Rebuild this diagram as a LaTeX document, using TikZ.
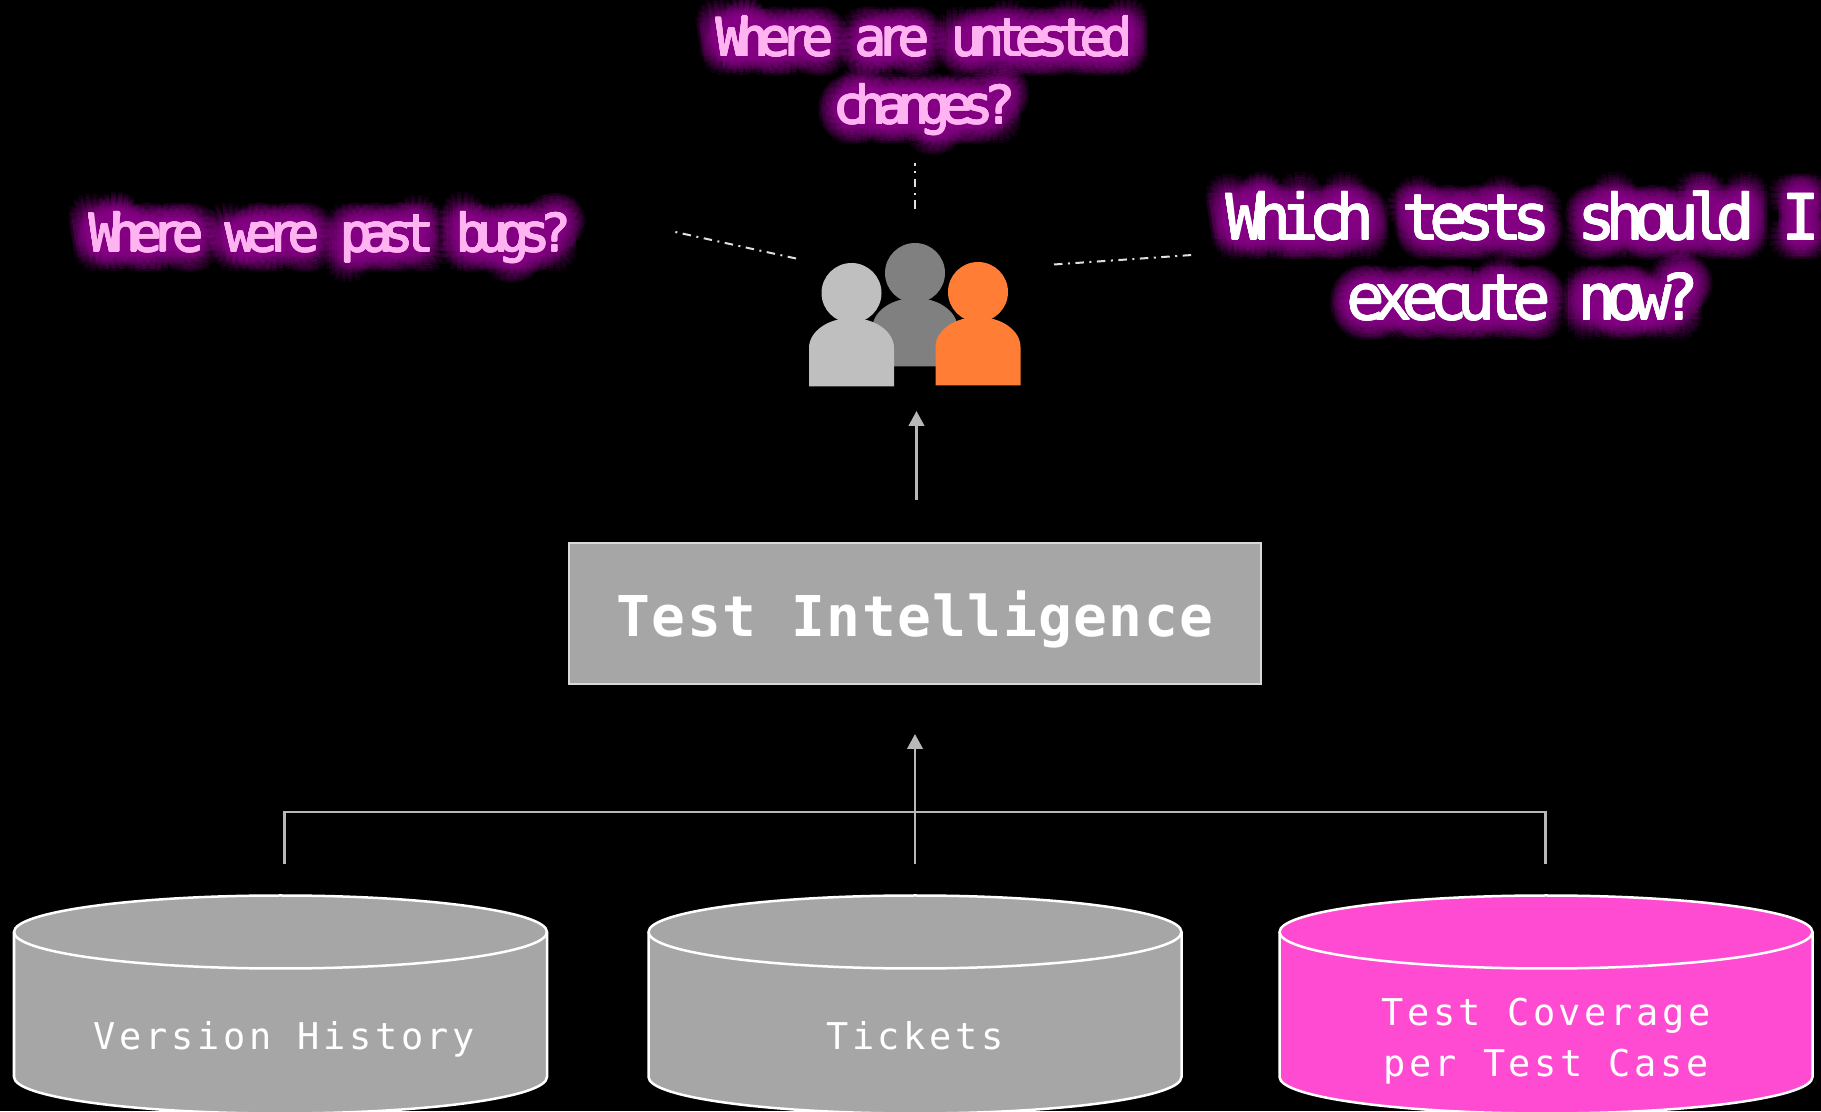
\documentclass[tikz,border=0pt]{standalone}
\usepackage{fontspec}
\usetikzlibrary{arrows.meta}

\newfontfamily\glowfont[LetterSpace=-19.5]{DejaVu Sans Mono}
\newfontfamily\bugsfont[LetterSpace=-20.5]{DejaVu Sans Mono}
\newfontfamily\whichfont[LetterSpace=-16.5]{DejaVu Sans Mono}
\newfontfamily\titlefont[LetterSpace=2.5]{DejaVu Sans Mono}
\newfontfamily\storefont[LetterSpace=10]{DejaVu Sans Mono}

\definecolor{boxgray}{HTML}{A6A6A6}
\definecolor{linegray}{HTML}{B8B8B8}
\definecolor{storepink}{HTML}{FF4BD2}
\definecolor{neonpink}{HTML}{FFB3F0}
\definecolor{neonglow}{HTML}{8A008A}
\definecolor{personorange}{HTML}{FF7D35}

\tikzset{
	flowline/.style={draw=linegray, line width=.05cm},
	flowarrow/.style={flowline, -{Triangle[width=.31cm, length=.3cm]}},
	talkline/.style={draw=white!88!black, line width=.04cm, dash pattern=on .17cm off .11cm on .04cm off .11cm},
	storeshape/.style={draw=white, line width=.05cm},
	storelabel/.style={text=white, align=center, font=\storefont\fontsize{21}{29}\selectfont},
	glowcopy/.style={text=neonglow, text opacity=.13, align=center},
}

% text with a soft halo: copies on rings round the position, then the sharp text
\newcommand{\neonlabel}[5]{
	\foreach \r in {.40, .34, .28, .22, .16, .10} {
		\foreach \a in {0, 20, ..., 340} {
			\node[glowcopy, font=#3, shift={(\a:\r)}] at (#2) {#5};
		};
	};
	\foreach \a in {0, 60, ..., 300} {
		\node[align=center, text=#4, font=#3, shift={(\a:.012)}] at (#2) {#5};
	};
	\node[align=center, text=#4, font=#3] (#1) at (#2) {#5};
}

\begin{document}
\begin{tikzpicture}
	\useasboundingbox (0, 0) rectangle (36.42, 22.22);
	\fill[black] (0, 0) rectangle (36.42, 22.22);

	% questions
	\neonlabel{untested}{18.49, 20.71}{\glowfont\fontsize{30}{38.5}\selectfont}{neonpink}{Where are untested\\changes?}
	\neonlabel{pastbugs}{6.6, 17.47}{\bugsfont\fontsize{30}{38}\selectfont}{neonpink}{Where were past bugs?}
	\neonlabel{whichtests}{30.46, 17.1}{\whichfont\fontsize{36}{45.5}\selectfont}{white}{Which tests should I\\execute now?}

	\coordinate (untestedEnd) at (18.3, 18.96);
	\coordinate (untestedStart) at (18.3, 18.04);
	\coordinate (pastbugsEnd) at (13.46, 17.59);
	\coordinate (pastbugsStart) at (15.92, 17.05);
	\coordinate (whichEnd) at (23.84, 17.12);
	\coordinate (whichStart) at (21.08, 16.93);
	\draw[talkline] (untestedStart) -- (untestedEnd);
	\draw[talkline] (pastbugsStart) -- (pastbugsEnd);
	\draw[talkline] (whichStart) -- (whichEnd);

	% people
	\foreach \x/\y/\c in {18.3/16.76/black!50, 17.03/16.36/black!25, 19.56/16.38/personorange} {
		\fill[\c] (\x, \y) circle (.6);
		\fill[\c] (\x-.85, \y-1.87) -- ++(0, .77) arc[start angle=180, end angle=0, x radius=.85, y radius=.6] -- ++(0, -.77) -- cycle;
	};

	% analysis box
	\node[draw=white!85!black, line width=.04cm, fill=boxgray, minimum width=13.84cm, minimum height=2.82cm, text depth=0pt, text=white, font=\titlefont\bfseries\fontsize{32}{38}\selectfont] (intelligence) at (18.3, 9.95) {Test Intelligence};

	\coordinate (usersTail) at (18.33, 12.22);
	\coordinate (usersTip) at (18.33, 14.0);
	\draw[flowarrow] (usersTail) -- (usersTip);

	% data stores
	\foreach \x/\c in {5.61/boxgray, 18.3/boxgray, 30.92/storepink} {
		\filldraw[storeshape, fill=\c] (\x-5.33, 3.58) -- ++(0, -2.9) arc[start angle=180, end angle=360, x radius=5.33, y radius=.73] -- ++(0, 2.9) arc[start angle=0, end angle=180, x radius=5.33, y radius=.73] -- cycle;
		\draw[storeshape] (\x-5.33, 3.58) arc[start angle=180, end angle=360, x radius=5.33, y radius=.73];
	};
	\node[storelabel, anchor=base] (version) at (5.69, 1.24) {Version History};
	\node[storelabel, anchor=base] (tickets) at (18.3, 1.24) {Tickets};
	\node[storelabel] (coverage) at (30.92, 1.4) {Test Coverage\\per Test Case};

	\coordinate (versionTap) at (5.69, 4.94);
	\coordinate (ticketsTap) at (18.3, 4.94);
	\coordinate (coverageTap) at (30.91, 4.94);
	\coordinate (treeBar) at (18.3, 5.98);
	\coordinate (intelligenceTip) at (18.3, 7.54);
	\draw[flowline] (versionTap) -- (versionTap |- treeBar) -- (coverageTap |- treeBar) -- (coverageTap);
	\draw[flowarrow] (ticketsTap) -- (intelligenceTip);
\end{tikzpicture}
\end{document}
